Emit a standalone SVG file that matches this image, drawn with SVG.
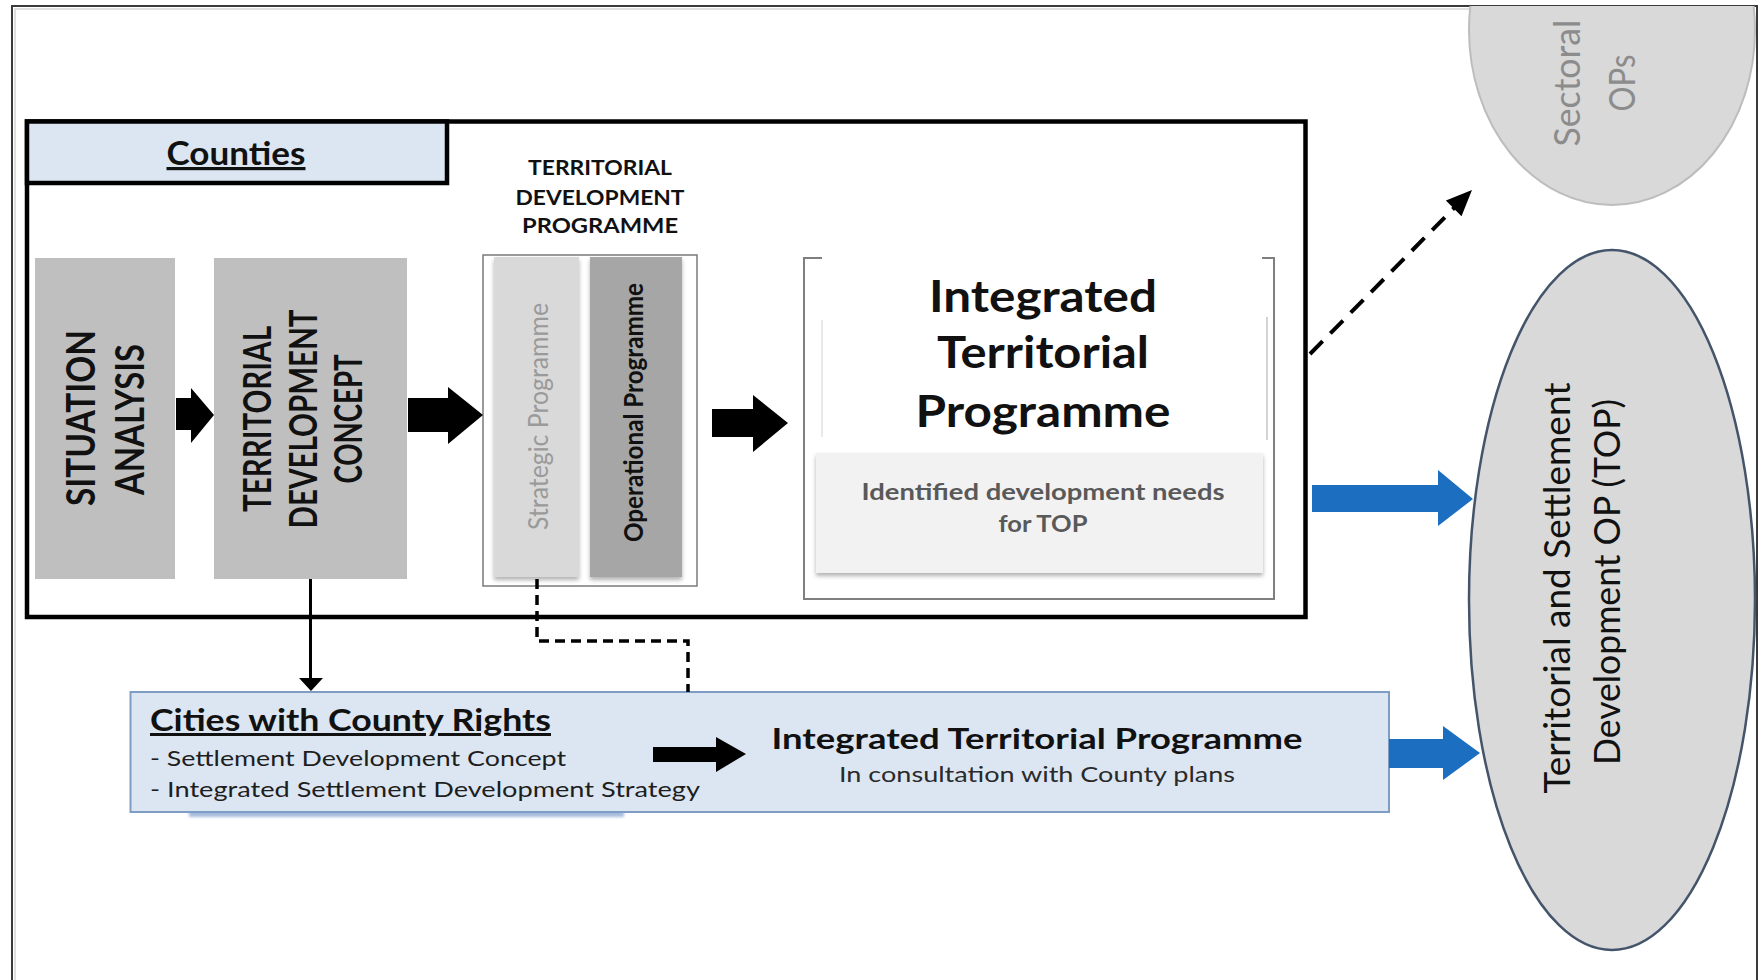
<svg xmlns="http://www.w3.org/2000/svg" width="1764" height="980" viewBox="0 0 1764 980">
  <defs>
    <style>
      text { font-family: Lato, "Open Sans", "Liberation Sans", sans-serif; }
      .b { font-weight: 700; }
      .blk { fill: #111; }
      .step { fill: #bfbfbf; }
      .arrow { fill: #000; }
      .blue { fill: #1c6ec1; }
      .dash { fill: none; stroke: #000; stroke-width: 3.5; stroke-dasharray: 10 6; }
    </style>
    <filter id="sh" x="-5%" y="-5%" width="110%" height="115%">
      <feDropShadow dx="0" dy="3" stdDeviation="2" flood-color="#000" flood-opacity="0.3"/>
    </filter>
    <filter id="shBlue" x="-5%" y="-20%" width="110%" height="160%">
      <feGaussianBlur stdDeviation="1.5"/>
    </filter>
    <clipPath id="inner">
      <rect x="12" y="6" width="1745" height="980"/>
    </clipPath>
  </defs>

  <rect x="0" y="0" width="1764" height="980" fill="#fff"/>

  <!-- outer frame -->
  <g id="frame">
    <rect x="12" y="6" width="1745" height="990" fill="none" stroke="#3a3a3a" stroke-width="2"/>
    <path d="M15,990 V9 H1754" fill="none" stroke="#d6d6d6" stroke-width="1.5"/>
  </g>

  <!-- target programmes on the right -->
  <g id="sectoral-ops" clip-path="url(#inner)">
    <ellipse cx="1612" cy="30" rx="143" ry="175" fill="#d9d9d9" stroke="#bdbdbd" stroke-width="2"/>
    <text transform="translate(1580,83) rotate(-90)" text-anchor="middle" font-size="36" fill="#8c8c8c" textLength="127" lengthAdjust="spacingAndGlyphs">Sectoral</text>
    <text transform="translate(1635,83) rotate(-90)" text-anchor="middle" font-size="36" fill="#8c8c8c" textLength="57" lengthAdjust="spacingAndGlyphs">OPs</text>
  </g>

  <g id="top-op" clip-path="url(#inner)">
    <ellipse cx="1612" cy="600" rx="143" ry="350" fill="#d9d9d9" stroke="#44546a" stroke-width="2.5"/>
    <text class="blk" transform="translate(1570,588) rotate(-90)" text-anchor="middle" font-size="37" textLength="411" lengthAdjust="spacingAndGlyphs">Territorial and Settlement</text>
    <text class="blk" transform="translate(1620,582) rotate(-90)" text-anchor="middle" font-size="37" textLength="366" lengthAdjust="spacingAndGlyphs">Development OP (TOP)</text>
  </g>

  <!-- county level -->
  <g id="counties">
    <rect x="27" y="121.5" width="1278.5" height="495.5" fill="#fff" stroke="#000" stroke-width="4.5"/>
    <rect x="27" y="121.5" width="420" height="61.5" fill="#dce6f2" stroke="#000" stroke-width="4.5"/>
    <text class="b blk" x="236" y="165" text-anchor="middle" font-size="32" text-decoration="underline" textLength="139" lengthAdjust="spacingAndGlyphs">Counties</text>
  </g>

  <g id="situation-analysis">
    <rect class="step" x="35" y="258" width="140" height="321"/>
    <text class="b blk" transform="translate(94.5,418) rotate(-90)" text-anchor="middle" font-size="40" textLength="176" lengthAdjust="spacingAndGlyphs">SITUATION</text>
    <text class="b blk" transform="translate(144,419.5) rotate(-90)" text-anchor="middle" font-size="40" textLength="151" lengthAdjust="spacingAndGlyphs">ANALYSIS</text>
  </g>

  <g id="development-concept">
    <rect class="step" x="214" y="258" width="193" height="321"/>
    <text class="b blk" transform="translate(271,419) rotate(-90)" text-anchor="middle" font-size="38" textLength="186" lengthAdjust="spacingAndGlyphs">TERRITORIAL</text>
    <text class="b blk" transform="translate(317,419) rotate(-90)" text-anchor="middle" font-size="38" textLength="219" lengthAdjust="spacingAndGlyphs">DEVELOPMENT</text>
    <text class="b blk" transform="translate(362,419) rotate(-90)" text-anchor="middle" font-size="38" textLength="129" lengthAdjust="spacingAndGlyphs">CONCEPT</text>
  </g>

  <g id="development-programme">
    <text class="b blk" x="600" y="175" text-anchor="middle" font-size="21" textLength="144" lengthAdjust="spacingAndGlyphs">TERRITORIAL</text>
    <text class="b blk" x="600" y="205" text-anchor="middle" font-size="21" textLength="169" lengthAdjust="spacingAndGlyphs">DEVELOPMENT</text>
    <text class="b blk" x="600" y="233" text-anchor="middle" font-size="21" textLength="156" lengthAdjust="spacingAndGlyphs">PROGRAMME</text>
    <rect x="483" y="255" width="214" height="331" fill="#fff" stroke="#7a7a7a" stroke-width="1.5"/>
    <rect x="494" y="257" width="85" height="320" fill="#d9d9d9" filter="url(#sh)"/>
    <rect x="590" y="257" width="92" height="320" fill="#a6a6a6" filter="url(#sh)"/>
    <text transform="translate(548,416.5) rotate(-90)" text-anchor="middle" font-size="27" fill="#9a9a9a" textLength="227" lengthAdjust="spacingAndGlyphs">Strategic Programme</text>
    <text class="b blk" transform="translate(643,412.5) rotate(-90)" text-anchor="middle" font-size="27" textLength="259" lengthAdjust="spacingAndGlyphs">Operational Programme</text>
  </g>

  <g id="integrated-programme">
    <path d="M822,258 H804 V599 H1274 V258 H1262" fill="none" stroke="#7f7f7f" stroke-width="2"/>
    <line x1="822" y1="320" x2="822" y2="437" stroke="#e2e2e2" stroke-width="1.5"/>
    <line x1="1267" y1="317" x2="1267" y2="440" stroke="#d4d4d4" stroke-width="2"/>
    <text class="b blk" x="1043" y="312" text-anchor="middle" font-size="44" textLength="228" lengthAdjust="spacingAndGlyphs">Integrated</text>
    <text class="b blk" x="1043" y="368" text-anchor="middle" font-size="44" textLength="212" lengthAdjust="spacingAndGlyphs">Territorial</text>
    <text class="b blk" x="1043" y="427" text-anchor="middle" font-size="44" textLength="255" lengthAdjust="spacingAndGlyphs">Programme</text>
    <rect x="816" y="453" width="447" height="120" fill="#f2f2f2" filter="url(#sh)"/>
    <text class="b" x="1043" y="500" text-anchor="middle" font-size="22" fill="#595959" textLength="363" lengthAdjust="spacingAndGlyphs">Identified development needs</text>
    <text class="b" x="1043" y="532" text-anchor="middle" font-size="22" fill="#595959" textLength="89" lengthAdjust="spacingAndGlyphs">for TOP</text>
  </g>

  <!-- city level -->
  <g id="cities">
    <rect x="189" y="810" width="435" height="7" fill="#7f9fcf" opacity="0.7" filter="url(#shBlue)"/>
    <rect x="130.5" y="692" width="1258.5" height="120" fill="#dce6f2" stroke="#7f9cc4" stroke-width="2"/>
    <text class="b blk" x="150" y="731" font-size="30" text-decoration="underline" textLength="401" lengthAdjust="spacingAndGlyphs">Cities with County Rights</text>
    <text x="150" y="766" font-size="22" fill="#1e1e1e" textLength="416" lengthAdjust="spacingAndGlyphs">- Settlement Development Concept</text>
    <text x="150" y="797" font-size="22" fill="#1e1e1e" textLength="550" lengthAdjust="spacingAndGlyphs">- Integrated Settlement  Development Strategy</text>
    <text class="b blk" x="1037" y="749" text-anchor="middle" font-size="28" textLength="531" lengthAdjust="spacingAndGlyphs">Integrated Territorial Programme</text>
    <text x="1037" y="782" text-anchor="middle" font-size="22" fill="#2a2a2a" textLength="396" lengthAdjust="spacingAndGlyphs">In consultation with County plans</text>
  </g>

  <!-- connectors -->
  <g id="connectors">
    <!-- block arrows along the county chain -->
    <polygon class="arrow" points="176,398 191,398 191,388 214,415 191,443 191,430 176,430"/>
    <polygon class="arrow" points="408,398 448,398 448,387 483,415 448,444 448,432 408,432"/>
    <polygon class="arrow" points="712,409 753,409 753,395 788,423 753,452 753,437 712,437"/>
    <!-- block arrow inside the city box -->
    <polygon class="arrow" points="653,747 716,747 716,737 746,754 716,772 716,762 653,762"/>
    <!-- blue arrows into the TOP -->
    <polygon class="blue" points="1312,485 1438,485 1438,470 1473,499 1438,526 1438,512 1312,512"/>
    <polygon class="blue" points="1389,739 1443,739 1443,726 1480,753 1443,780 1443,768 1389,768"/>
    <!-- dashed arrow towards the sectoral OPs -->
    <line x1="1310" y1="354" x2="1456" y2="206" stroke="#000" stroke-width="4" stroke-dasharray="18 11"/>
    <polygon class="arrow" points="1472,190 1461.5,216.2 1445.9,200.6"/>
    <!-- concept feeds the city level -->
    <line x1="310.5" y1="579" x2="310.5" y2="680" stroke="#000" stroke-width="3"/>
    <polygon class="arrow" points="299,678 323,678 311,691"/>
    <!-- strategic programme consulted by the cities -->
    <path class="dash" d="M537,579 V641 H688 V692"/>
  </g>
</svg>
